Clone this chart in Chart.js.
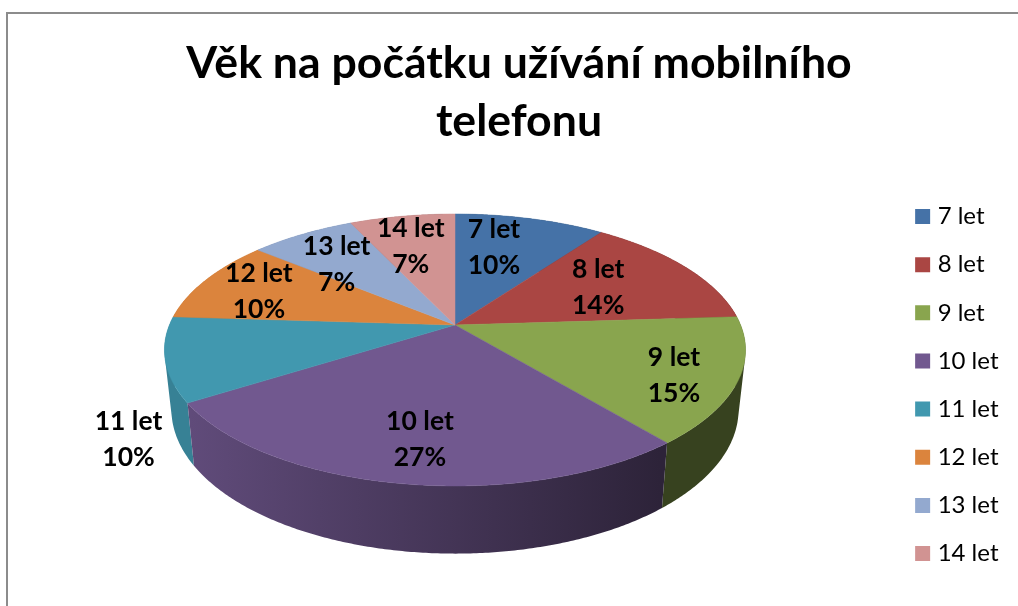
<!DOCTYPE html>
<html lang="cs">
<head>
<meta charset="utf-8">
<title>Věk na počátku užívání mobilního telefonu</title>
<script src="https://cdn.jsdelivr.net/npm/chart.js@4"></script>
<style>
html,body{margin:0;padding:0;background:#fff;}
#wrap{position:relative;width:1018px;height:606px;overflow:hidden;}
#frame{position:absolute;left:6px;top:12px;width:1012px;height:594px;border-left:2px solid #8c8c8c;border-top:2px solid #8c8c8c;box-sizing:border-box;}
canvas{position:absolute;left:0;top:0;}
</style>
</head>
<body>
<div id="wrap"><div id="frame"></div><canvas id="c" width="1018" height="606"></canvas></div>
<script>
const titleLines = ['Věk na počátku užívání mobilního', 'telefonu'];
const categories = ['7 let','8 let','9 let','10 let','11 let','12 let','13 let','14 let'];
const percentages = [10,14,15,27,10,10,7,7];
const colors = ['#4572A7','#AA4643','#89A54E','#71588F','#4198AF','#DB843D','#93A9CF','#D19392'];

// Label placement relative to each slice's middle (radius fraction, angle shift in degrees)
const labelRadius = [.68,.61,.80,.76,1.24,.77,.68,.69];
const labelShift = [-5,-1,3,-1,-23,-1,-4,-2];

// Perspective view of the disc
const view = {x:455, y:325, a:285.6, b:131.4, k:0.1837};
const base = {sx:0.976, sy:1.06, d:58};
const wallShade = {x0:190, x1:660, f0:0.85, f1:0.40};

function project(r, theta){
  const u = r*Math.sin(theta), v = -r*Math.cos(theta);
  const q = 1 - view.k*v;
  return {x: view.x + view.a*u/q, y: view.y + view.b*v/q};
}
function lower(p){
  return {x: view.x + base.sx*(p.x-view.x), y: view.y + base.d + base.sy*(p.y-view.y)};
}
function shade(hex, f){
  const n = parseInt(hex.slice(1),16);
  const c = [n>>16&255, n>>8&255, n&255].map(v=>Math.round(v*f));
  return `rgb(${c[0]},${c[1]},${c[2]})`;
}
function rimPoints(s, e){
  const pts = [], step = Math.PI/360;
  for(let t=s;t<e;t+=step) pts.push(project(1,t));
  pts.push(project(1,e));
  return pts;
}
function addQuad(ctx, a, b){
  const q = [a, b, lower(b), lower(a)];
  let area = 0;
  q.forEach((p,n)=>{const r=q[(n+1)%4]; area += p.x*r.y - r.x*p.y;});
  if(area<0) q.reverse();
  ctx.moveTo(q[0].x,q[0].y);
  for(let n=1;n<4;n++) ctx.lineTo(q[n].x,q[n].y);
  ctx.closePath();
}

const pie3d = {
  id:'pie3d',
  afterLayout(chart){
    const lg = chart.legend, w = lg.right-lg.left, h = lg.bottom-lg.top;
    lg.left = 895.5; lg.right = lg.left+w;
    lg.top = 180.4; lg.bottom = lg.top+h;
    const t = chart.titleBlock;
    t.left += 10; t.right += 10; t.top = 35; t.bottom = t.top + t.height;
  },
  beforeDatasetDraw(chart){
    const ctx = chart.ctx;
    const arcs = chart.getDatasetMeta(0).data.map((arc,i)=>({
      i, s:arc.startAngle+Math.PI/2, e:arc.endAngle+Math.PI/2
    }));
    // side walls, back to front
    [...arcs].sort((p,q)=>Math.cos(q.s/2+q.e/2)-Math.cos(p.s/2+p.e/2)).forEach(({i,s,e})=>{
      const g = ctx.createLinearGradient(wallShade.x0,0,wallShade.x1,0);
      g.addColorStop(0,shade(colors[i],wallShade.f0));
      g.addColorStop(1,shade(colors[i],wallShade.f1));
      const top = rimPoints(s,e);
      ctx.beginPath();
      for(let n=0;n<top.length-1;n++) addQuad(ctx,top[n],top[n+1]);
      ctx.fillStyle=g;ctx.fill('nonzero');
    });
    // top faces
    arcs.forEach(({i,s,e})=>{
      ctx.beginPath();
      ctx.moveTo(view.x,view.y);
      rimPoints(s,e).forEach(p=>ctx.lineTo(p.x,p.y));
      ctx.closePath();
      ctx.fillStyle=colors[i];ctx.strokeStyle=colors[i];ctx.lineWidth=0.5;ctx.fill();ctx.stroke();
    });
    // data labels
    ctx.fillStyle='#000';ctx.textAlign='center';ctx.textBaseline='middle';
    ctx.font='bold 26.5px Lato';
    arcs.forEach(({i,s,e})=>{
      const p=project(labelRadius[i],(s+e)/2+labelShift[i]*Math.PI/180);
      ctx.fillText(categories[i],p.x,p.y-18);
      ctx.fillText(percentages[i]+'%',p.x,p.y+18);
    });
    return false;
  }
};

new Chart(document.getElementById('c'),{
  type:'pie',
  data:{labels:categories,datasets:[{data:percentages,backgroundColor:colors,borderWidth:0}]},
  options:{
    responsive:false,animation:false,
    plugins:{
      tooltip:{enabled:false},
      title:{display:true,text:titleLines,color:'#000',font:{family:'Lato',size:44.6,weight:'bold',lineHeight:1.3},padding:0},
      legend:{position:'right',align:'start',labels:{
        font:{family:'Lato',size:24},color:'#000',padding:24.14,boxWidth:6,boxHeight:6,
        generateLabels:()=>categories.map((t,i)=>({text:t,index:i,fillStyle:colors[i],strokeStyle:colors[i],lineWidth:9,hidden:false,fontColor:'#000'}))
      }}
    }
  },
  plugins:[pie3d]
});
</script>
</body>
</html>
